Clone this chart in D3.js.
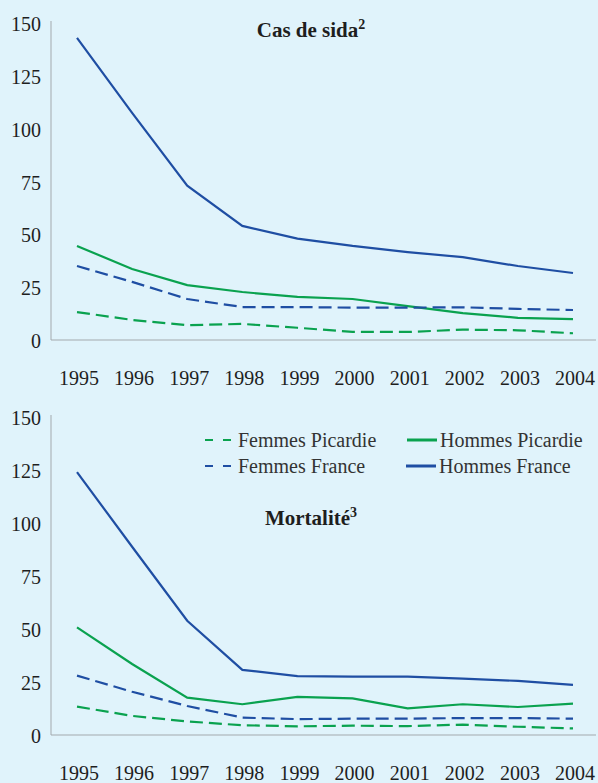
<!DOCTYPE html>
<html>
<head>
<meta charset="utf-8">
<script src="https://cdn.jsdelivr.net/npm/d3@7"></script>
<style>
  body { margin: 0; background: #e0f3fb; }
</style>
</head>
<body>
<div id="chart"></div>
<script>
// values (taux pour 100 000)
var years = [1995, 1996, 1997, 1998, 1999, 2000, 2001, 2002, 2003, 2004];
var yTicks = [0, 25, 50, 75, 100, 125, 150];

var sidaFemmesPicardie = [13.2, 9.5, 7.0, 7.6, 5.8, 3.8, 3.8, 4.9, 4.6, 3.2];
var sidaHommesPicardie = [44.5, 33.6, 26.0, 22.7, 20.4, 19.4, 16.0, 12.7, 10.5, 9.9];
var sidaFemmesFrance = [35.0, 27.5, 19.4, 15.6, 15.6, 15.3, 15.3, 15.5, 14.7, 14.2];
var sidaHommesFrance = [143, 107.5, 73, 54, 48, 44.5, 41.6, 39.2, 35, 31.7];

var mortFemmesPicardie = [13.4, 9.0, 6.4, 4.6, 4.1, 4.4, 4.2, 4.9, 3.9, 3.1];
var mortHommesPicardie = [50.8, 33.5, 17.6, 14.5, 18.0, 17.3, 12.6, 14.5, 13.2, 14.8];
var mortFemmesFrance = [28.0, 20.4, 13.7, 8.2, 7.5, 7.7, 7.7, 8.0, 8.0, 7.7];
var mortHommesFrance = [124, 88.8, 53.9, 30.7, 27.8, 27.5, 27.5, 26.6, 25.5, 23.6];

var seriesNames = ["Femmes Picardie", "Hommes Picardie", "Femmes France", "Hommes France"];

var green = "#0aa24f", blue = "#1f4ea3";
var styles = {
    "Femmes Picardie": {color: green, dash: "13,6"},
    "Hommes Picardie": {color: green, dash: null},
    "Femmes France": {color: blue, dash: "13,6"},
    "Hommes France": {color: blue, dash: null}
};

var width = 598, height = 783;
var svg = d3.select("#chart").append("svg")
    .attr("width", width)
    .attr("height", height)
    .attr("font-family", "'Liberation Serif', 'DejaVu Serif', 'Times New Roman', serif");

svg.append("rect").attr("width", width).attr("height", height).attr("fill", "#e0f3fb");

var x = d3.scalePoint()
    .domain(years)
    .range([77, 573]);

function drawPanel(top, zero, title, sup, titleY, data) {
    var y = d3.scaleLinear().domain([0, 150]).range([zero, top]);
    var g = svg.append("g");

    // axes
    g.append("line")
        .attr("x1", 51).attr("x2", 51)
        .attr("y1", y(150) - 2).attr("y2", y(0))
        .attr("stroke", "#a3a9ad").attr("stroke-width", 1);
    g.append("line")
        .attr("x1", 51).attr("x2", 596)
        .attr("y1", y(0)).attr("y2", y(0))
        .attr("stroke", "#a3a9ad").attr("stroke-width", 1);

    g.selectAll(".ytick")
        .data(yTicks)
        .enter().append("text")
        .attr("class", "ytick")
        .attr("x", 41)
        .attr("y", function (d) { return y(d) + 8; })
        .attr("text-anchor", "end")
        .attr("font-size", 20)
        .attr("fill", "#1e1e1e")
        .text(function (d) { return d; });

    g.selectAll(".xtick")
        .data(years)
        .enter().append("text")
        .attr("class", "xtick")
        .attr("x", function (d) { return x(d) + 2; })
        .attr("y", y(0) + 45)
        .attr("text-anchor", "middle")
        .attr("font-size", 20)
        .attr("fill", "#1e1e1e")
        .text(function (d) { return d; });

    var t = g.append("text")
        .attr("x", 311)
        .attr("y", titleY)
        .attr("text-anchor", "middle")
        .attr("font-size", 21)
        .attr("font-weight", "bold")
        .attr("fill", "#1e1e1e");
    t.append("tspan").text(title);
    t.append("tspan").attr("font-size", 14).attr("dy", -8).text(sup);

    var line = d3.line()
        .x(function (d, i) { return x(years[i]); })
        .y(function (d) { return y(d); });

    seriesNames.forEach(function (name) {
        g.append("path")
            .attr("d", line(data[name]))
            .attr("fill", "none")
            .attr("stroke", styles[name].color)
            .attr("stroke-width", 2.2)
            .attr("stroke-dasharray", styles[name].dash);
    });
    return g;
}

drawPanel(23, 340, "Cas de sida", "2", 37, {
    "Femmes Picardie": sidaFemmesPicardie,
    "Hommes Picardie": sidaHommesPicardie,
    "Femmes France": sidaFemmesFrance,
    "Hommes France": sidaHommesFrance
});

drawPanel(417, 735, "Mortalité", "3", 525, {
    "Femmes Picardie": mortFemmesPicardie,
    "Hommes Picardie": mortHommesPicardie,
    "Femmes France": mortFemmesFrance,
    "Hommes France": mortHommesFrance
});

// legend
var legendPos = [
    {name: "Femmes Picardie", x: 205, y: 440},
    {name: "Hommes Picardie", x: 407, y: 440},
    {name: "Femmes France", x: 205, y: 466},
    {name: "Hommes France", x: 406, y: 466}
];
var legend = svg.append("g").attr("class", "legend");
legendPos.forEach(function (d) {
    var s = styles[d.name];
    legend.append("line")
        .attr("x1", d.x).attr("x2", d.x + (s.dash ? 26 : 30))
        .attr("y1", d.y).attr("y2", d.y)
        .attr("stroke", s.color)
        .attr("stroke-width", s.dash ? 2.2 : 3)
        .attr("stroke-dasharray", s.dash ? "8,10" : null);
    legend.append("text")
        .attr("x", d.x + 33)
        .attr("y", d.y + 7)
        .attr("font-size", 20)
        .attr("fill", "#333")
        .text(d.name);
});
</script>
</body>
</html>
